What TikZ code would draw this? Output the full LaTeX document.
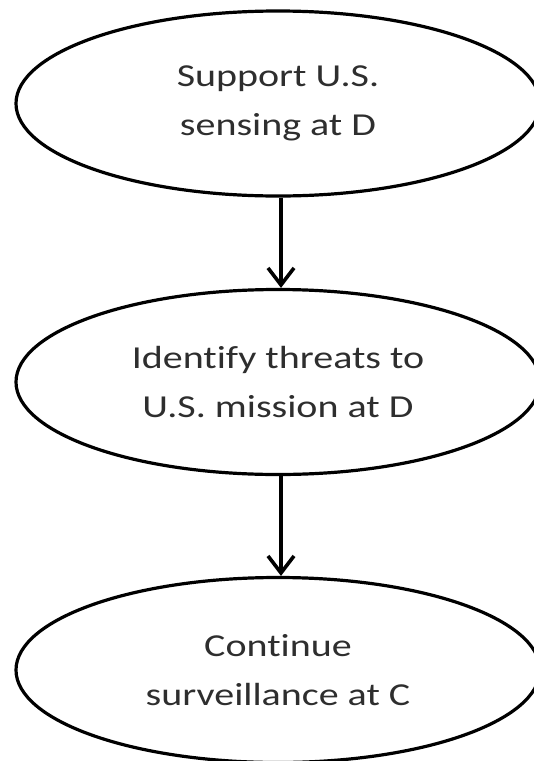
\documentclass[tikz,border=0pt]{standalone}
\usepackage{fontspec}
\setmainfont{Carlito}[FakeStretch=1.25,Ligatures=NoCommon]
\usetikzlibrary{arrows.meta,shapes.geometric,calc}
\begin{document}
\begin{tikzpicture}[x=1pt,y=-1pt,
  oval/.style={draw=black, line width=3.2pt, ellipse, minimum width=524pt, minimum height=185pt,
    inner sep=0pt, align=center, font=\fontsize{32}{49}\selectfont, text=black!82},
  flow/.style={draw=black, line width=3.6pt, -{Straight Barb[length=17pt,width=26pt,line width=3.6pt]}}]
  \useasboundingbox (0,0) rectangle (534,761);
  \node[oval] (sense) at (278,103.5) {Support U.S.\\sensing at D};
  \node[oval] (threat) at (278,382) {Identify threats to\\U.S. mission at D};
  \node[oval] (surv) at (278,670) {Continue\\surveillance at C};
  \draw[flow] ($(sense.south)+(3,0)$) -- ($(threat.north)+(3,0)$);
  \draw[flow] ($(threat.south)+(3,0)$) -- ($(surv.north)+(3,0)$);
\end{tikzpicture}
\end{document}
